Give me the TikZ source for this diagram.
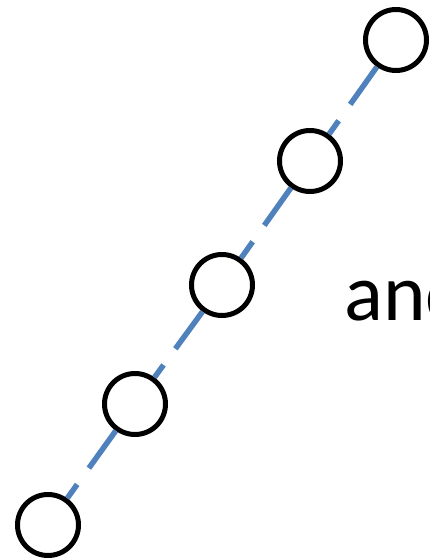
\documentclass[tikz,border=0pt]{standalone}
\usepackage{fontspec}
\setmainfont{Carlito}
\usetikzlibrary{positioning}
\definecolor{linkblue}{HTML}{4F81BD}

\begin{document}
\begin{tikzpicture}[
    x=1pt, y=-1pt,
    ring/.style={circle, draw=black, line width=5pt, fill=white, minimum size=61pt, inner sep=0pt},
    link/.style={draw=linkblue, line width=5.5pt, dash pattern=on 46pt off 20pt}
]
    \useasboundingbox (0,0) rectangle (429,560);

    % Nodes
    \node[ring] (c1) at (396,40) {};
    \node[ring] (c2) at (310,161) {};
    \node[ring] (c3) at (222,285) {};
    \node[ring] (c4) at (135,404) {};
    \node[ring] (c5) at (48,525) {};
    \node[anchor=base west, inner sep=0pt, font=\fontsize{81}{85}\selectfont] (word) at (344,320) {and};

    % Connections
    \draw[link] (c1) -- (c2);
    \draw[link] (c2) -- (c3);
    \draw[link] (c3) -- (c4);
    \draw[link] (c4) -- (c5);

\end{tikzpicture}
\end{document}
